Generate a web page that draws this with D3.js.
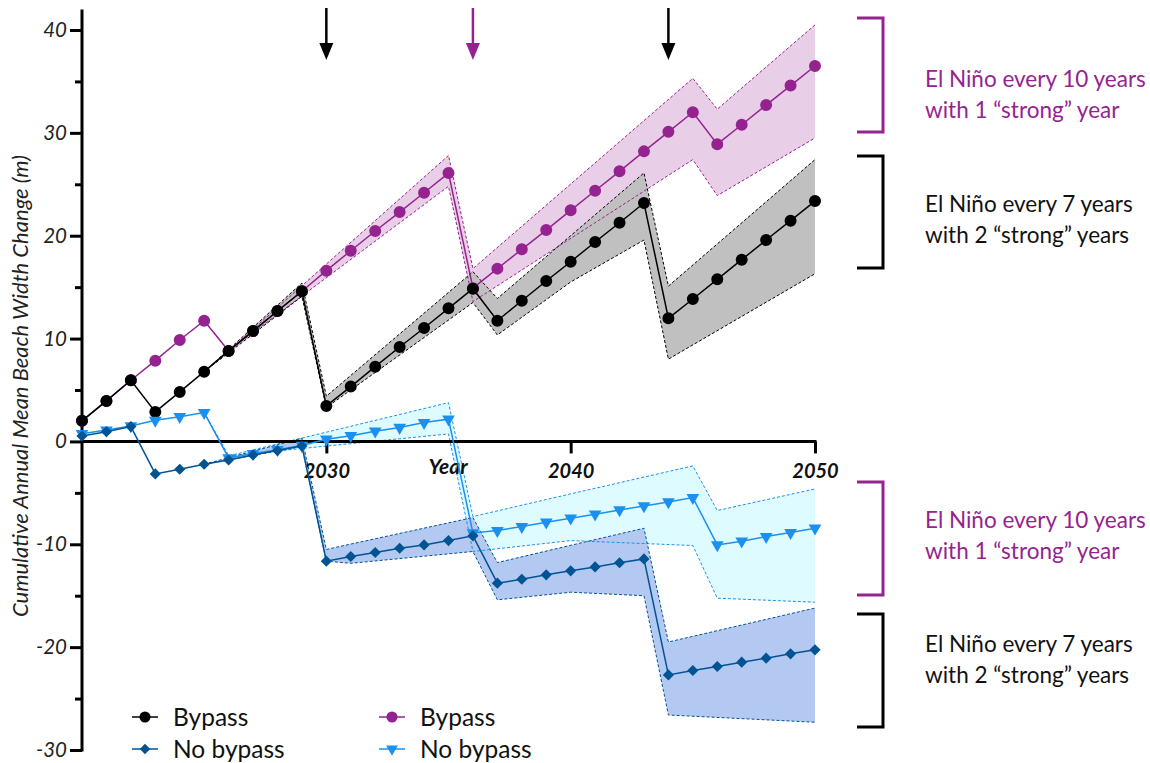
<!DOCTYPE html>
<html>
<head>
<meta charset="utf-8">
<script src="https://cdn.jsdelivr.net/npm/d3@7"></script>
<style>
  html, body { margin: 0; padding: 0; background: #fff; }
  svg { display: block; font-family: Lato, "Noto Sans", sans-serif; }
</style>
</head>
<body>
<svg id="chart" width="1150" height="763"></svg>
<script>
// Years on the x axis
const years = [2020, 2021, 2022, 2023, 2024, 2025, 2026, 2027, 2028, 2029,
               2030, 2031, 2032, 2033, 2034, 2035, 2036, 2037, 2038, 2039,
               2040, 2041, 2042, 2043, 2044, 2045, 2046, 2047, 2048, 2049, 2050];

// Cumulative annual mean beach width change (m)
// El Niño every 7 years with 2 "strong" years
const bypass7 = [2.0, 3.94, 5.95, 2.87, 4.81, 6.78, 8.8, 10.74, 12.68, 14.6,
                 3.45, 5.33, 7.27, 9.18, 11.03, 12.94, 14.85, 11.74, 13.68, 15.6,
                 17.47, 19.39, 21.26, 23.18, 11.97, 13.85, 15.76, 17.67, 19.58, 21.46, 23.37];
const noBypass7 = [0.53, 0.95, 1.44, -3.16, -2.7, -2.22, -1.8, -1.31, -0.89, -0.44,
                   -11.64, -11.19, -10.8, -10.38, -10.06, -9.64, -9.18, -13.78, -13.4, -12.97,
                   -12.58, -12.2, -11.8, -11.42, -22.7, -22.27, -21.88, -21.46, -21.07, -20.65, -20.26];
// El Niño every 10 years with 1 "strong" year
const bypass10 = [2.0, 3.94, 5.95, 7.85, 9.86, 11.74, 8.8, 10.74, 12.68, 14.6,
                  16.6, 18.54, 20.46, 22.3, 24.18, 26.09, 14.9, 16.8, 18.68, 20.55,
                  22.47, 24.37, 26.26, 28.2, 30.1, 32.0, 28.9, 30.79, 32.7, 34.6, 36.5];
const noBypass10 = [0.75, 1.1, 1.5, 2.05, 2.41, 2.8, -1.6, -1.2, -0.8, -0.4,
                    0.21, 0.55, 1.0, 1.35, 1.83, 2.16, -8.9, -8.67, -8.28, -7.86,
                    -7.47, -7.08, -6.66, -6.27, -5.88, -5.46, -10.06, -9.7, -9.25, -8.86, -8.44];

// Uncertainty ranges: [year, low, high] at each vertex of the band
const band7Bypass = [[2025, 6.78, 6.78], [2029, 14.1, 15.4], [2030, 3.3, 4.4], [2036, 13.5, 16.5],
                     [2037, 10.35, 13.9], [2040, 15.5, 20.0], [2043, 19.58, 26.1],
                     [2044, 8.0, 15.1], [2050, 16.3, 27.4]];
const band10Bypass = [[2025, 11.74, 11.74], [2026, 8.8, 8.8], [2035, 24.8, 27.8], [2036, 13.6, 16.8],
                      [2045, 27.4, 35.3], [2046, 23.9, 32.3], [2050, 29.5, 40.5]];
const band7NoBypass = [[2025, -2.22, -2.22], [2029, -0.5, 0.31], [2030, -11.64, -10.5], [2031, -11.85, -9.98],
                       [2036, -10.7, -7.4], [2037, -15.4, -11.78], [2040, -14.66, -10.1], [2043, -15.0, -8.44],
                       [2044, -26.6, -19.5], [2050, -27.3, -16.2]];
const band10NoBypass = [[2025, 2.8, 2.8], [2026, -1.4, -1.4], [2035, 0.73, 3.77], [2036, -10.7, -7.3],
                        [2040, -9.64, -5.1], [2045, -10.12, -2.38], [2046, -15.24, -6.72], [2050, -15.63, -4.62]];

// Axis ticks
const yTicks = [-30, -25, -20, -15, -10, -5, 0, 5, 10, 15, 20, 25, 30, 35, 40];
const xTicks = [2030, 2040, 2050];
// Years of the strong El Niño events marked with arrows
const eventYears7 = [2030, 2044];
const eventYears10 = [2036];

const legendLabels = ["Bypass", "No bypass", "Bypass", "No bypass"];
const noteLines10 = ["El Niño every 10 years", "with 1 \u201Cstrong\u201D year"];
const noteLines7 = ["El Niño every 7 years", "with 2 \u201Cstrong\u201D years"];

const C = {
  black: "#000000", gray: "#c0c0c0",
  purple: "#95238f", pink: "#e9cee7",
  dblue: "#005494", dblueFill: "#b4c9f1",
  lblue: "#1a91f0", lblueFill: "#defcff"
};

const svg = d3.select("#chart");
const x = d3.scaleLinear().domain([2020, 2050]).range([82, 815]);
const y = d3.scaleLinear().domain([-30, 40]).range([750, 30]);

// ---- uncertainty bands ----
const area = d3.area().x(d => x(d[0])).y0(d => y(d[1])).y1(d => y(d[2]));
const lowLine = d3.line().x(d => x(d[0])).y(d => y(d[1]));
const highLine = d3.line().x(d => x(d[0])).y(d => y(d[2]));

const bands = [
  { data: band10Bypass, fill: C.pink, stroke: C.purple },
  { data: band7Bypass, fill: C.gray, stroke: C.black },
  { data: band10NoBypass, fill: C.lblueFill, stroke: C.lblue },
  { data: band7NoBypass, fill: C.dblueFill, stroke: C.dblue }
];
const gBands = svg.append("g");
bands.forEach(b => {
  gBands.append("path").attr("d", area(b.data)).attr("fill", b.fill);
});
bands.forEach(b => {
  [lowLine, highLine].forEach(fn => {
    gBands.append("path").attr("d", fn(b.data)).attr("fill", "none")
      .attr("stroke", b.stroke).attr("stroke-width", 1).attr("stroke-dasharray", "3,2");
  });
});

// ---- axes ----
const yAxis = d3.axisLeft(y).tickValues(yTicks).tickSize(12).tickPadding(3)
  .tickFormat(d => d % 10 === 0 ? String(d) : "");
const gy = svg.append("g").attr("transform", `translate(${x(2020)},0)`).call(yAxis);
gy.select(".domain").remove();
gy.selectAll(".tick line").attr("stroke", "#000").attr("stroke-width", 3)
  .attr("x2", d => d % 10 === 0 ? -12 : -7);
gy.selectAll(".tick text").attr("font-size", 20.5).attr("font-style", "italic")
  .attr("fill", "#222").attr("font-family", "Lato, sans-serif");
svg.append("line").attr("x1", x(2020)).attr("x2", x(2020))
  .attr("y1", y(42)).attr("y2", y(-30) + 1.5).attr("stroke", "#000").attr("stroke-width", 3);

const xAxis = d3.axisBottom(x).tickValues(xTicks).tickSize(12).tickPadding(10).tickFormat(d3.format("d"));
const gx = svg.append("g").attr("transform", `translate(0,${y(0)})`).call(xAxis);
gx.select(".domain").remove();
gx.selectAll(".tick line").attr("stroke", "#000").attr("stroke-width", 3);
gx.selectAll(".tick text").attr("font-size", 20).attr("font-style", "italic").attr("font-weight", "bold")
  .attr("fill", "#111").attr("font-family", "Lato, sans-serif");
svg.append("line").attr("x1", x(2020)).attr("x2", x(2050) + 1.5)
  .attr("y1", y(0)).attr("y2", y(0)).attr("stroke", "#000").attr("stroke-width", 3);

svg.append("text").attr("x", 448).attr("y", 474).attr("text-anchor", "middle")
  .attr("font-size", 21).attr("font-style", "italic").attr("font-weight", "bold")
  .attr("fill", "#111").text("Year");

svg.append("text").attr("transform", "translate(28,386) rotate(-90)").attr("text-anchor", "middle")
  .attr("font-size", 22).attr("font-style", "italic").attr("fill", "#222")
  .text("Cumulative Annual Mean Beach Width Change (m)");

// ---- series ----
const line = d3.line().x((d, i) => x(years[i])).y(d => y(d));
const series = [
  { values: bypass10, color: C.purple, symbol: "circle" },
  { values: bypass7, color: C.black, symbol: "circle" },
  { values: noBypass10, color: C.lblue, symbol: "triangle" },
  { values: noBypass7, color: C.dblue, symbol: "diamond" }
];
function symbolPath(kind, scale) {
  const s = scale || 1;
  if (kind === "circle") return d3.symbol(d3.symbolCircle, 113 * s)();
  if (kind === "triangle") return d3.symbol(d3.symbolTriangle, 70 * s)();
  return d3.symbol(d3.symbolSquare, 62 * s)();
}
function symbolRotate(kind) {
  if (kind === "triangle") return 180;
  if (kind === "diamond") return 45;
  return 0;
}
series.forEach(s => {
  const g = svg.append("g");
  g.append("path").attr("d", line(s.values)).attr("fill", "none")
    .attr("stroke", s.color).attr("stroke-width", 1.5);
  g.selectAll("path.pt").data(s.values).join("path").attr("class", "pt")
    .attr("d", symbolPath(s.symbol))
    .attr("transform", (d, i) => `translate(${x(years[i])},${y(d)}) rotate(${symbolRotate(s.symbol)})`)
    .attr("fill", s.color);
});

// ---- event arrows ----
function arrow(year, color) {
  const ax = x(year);
  svg.append("line").attr("x1", ax).attr("x2", ax).attr("y1", 8).attr("y2", 46)
    .attr("stroke", color).attr("stroke-width", 2.5);
  svg.append("path").attr("d", `M${ax - 7},43 L${ax + 7},43 L${ax},60 Z`).attr("fill", color);
}
eventYears7.forEach(yr => arrow(yr, C.black));
eventYears10.forEach(yr => arrow(yr, C.purple));

// ---- legend ----
const legendItems = [
  { label: legendLabels[0], color: C.black, symbol: "circle", lx: 145, ly: 717 },
  { label: legendLabels[1], color: C.dblue, symbol: "diamond", lx: 145, ly: 749 },
  { label: legendLabels[2], color: C.purple, symbol: "circle", lx: 392, ly: 717 },
  { label: legendLabels[3], color: C.lblue, symbol: "triangle", lx: 392, ly: 749 }
];
legendItems.forEach(it => {
  svg.append("line").attr("x1", it.lx - 13).attr("x2", it.lx + 13).attr("y1", it.ly).attr("y2", it.ly)
    .attr("stroke", it.color).attr("stroke-width", 1.5);
  svg.append("path").attr("d", symbolPath(it.symbol, 0.85))
    .attr("transform", `translate(${it.lx},${it.ly}) rotate(${symbolRotate(it.symbol)})`)
    .attr("fill", it.color);
  svg.append("text").attr("x", it.lx + 28).attr("y", it.ly + 8.5)
    .attr("font-size", 24.5).attr("fill", "#111").text(it.label);
});

// ---- bracket annotations ----
const notes = [
  { top: 18, bottom: 132, color: C.purple, lines: noteLines10, base: 87 },
  { top: 156, bottom: 268, color: C.black, lines: noteLines7, base: 212 },
  { top: 482, bottom: 595, color: C.purple, lines: noteLines10, base: 528 },
  { top: 614, bottom: 727, color: C.black, lines: noteLines7, base: 652 }
];
notes.forEach(n => {
  svg.append("path").attr("d", `M857,${n.top} H883 V${n.bottom} H857`)
    .attr("fill", "none").attr("stroke", n.color).attr("stroke-width", 3);
  n.lines.forEach((t, i) => {
    svg.append("text").attr("x", 925).attr("y", n.base + i * 31)
      .attr("font-size", 22.5).attr("fill", n.color === C.black ? "#111" : n.color).text(t);
  });
});
</script>
</body>
</html>
